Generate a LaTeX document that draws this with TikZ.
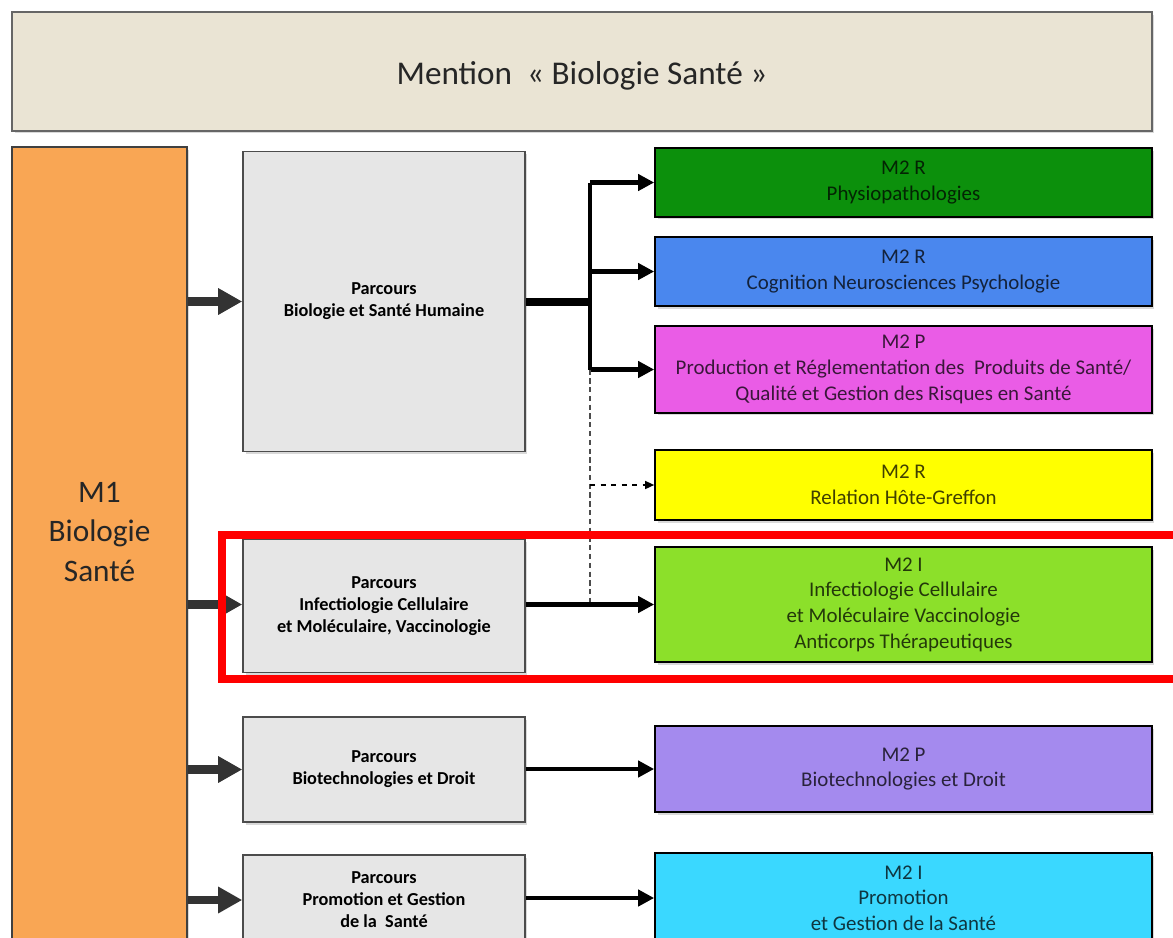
\documentclass[tikz,border=0pt]{standalone}
\usepackage{fontspec}
\setmainfont{Carlito}
\usetikzlibrary{arrows.meta,shadows}
\definecolor{mentionbg}{HTML}{EAE4D4}
\definecolor{mone}{HTML}{F9A654}
\definecolor{parcoursbg}{HTML}{E6E6E6}
\definecolor{physio}{HTML}{0C900C}
\definecolor{cogni}{HTML}{4A87EE}
\definecolor{prod}{HTML}{EA5CE6}
\definecolor{greffe}{HTML}{FFFF00}
\definecolor{infect}{HTML}{8CE02A}
\definecolor{biotech}{HTML}{A48AEE}
\definecolor{promo}{HTML}{3AD8FF}
\begin{document}
\begin{tikzpicture}[x=0.02cm,y=-0.02cm,
    box/.style={inner sep=0pt, align=center,
      drop shadow={shadow xshift=0.05cm, shadow yshift=-0.05cm, opacity=0.3}},
    parcours/.style={box, draw=black!70, line width=0.9pt, fill=parcoursbg,
      minimum width=5.64cm, font=\bfseries\fontsize{10.4}{12.5}\selectfont},
    master/.style={box, draw=black, line width=1pt, fill=#1, text=#1!25!black,
      minimum width=9.94cm, font=\fontsize{11.9}{14.6}\selectfont},
    bigarrow/.style={draw=black!80, line width=5pt, -{Triangle[length=0.48cm,width=0.5cm]}},
    linkarrow/.style={line width=2.8pt, -{Triangle[length=0.32cm,width=0.32cm]}},
    optarrow/.style={line width=0.8pt, dashed, -{Triangle[length=0.18cm,width=0.16cm]}},
  ]
  \useasboundingbox (0,0) rectangle (1173,937);
  \clip (0,0) rectangle (1173,937);

  \node[box, draw=black!60, line width=1pt, fill=mentionbg, minimum width=22.8cm,
    minimum height=2.38cm] (mention) at (582,71.5) {};
  \node[text=black!85, font=\fontsize{18.9}{22}\selectfont] (mentiontxt) at (582,76)
    {Mention~~« Biologie Santé »};

  \node[box, draw=black!75, line width=1pt, fill=mone, minimum width=3.5cm,
    minimum height=16.26cm] (m1) at (99.5,553.5) {};
  \node[align=center, text=black!85, font=\fontsize{17.8}{22.4}\selectfont] (m1txt)
    at (99.5,532) {M1\\Biologie\\Santé};

  \node[parcours, minimum height=6cm] (g1) at (384,301.5) {Parcours\\Biologie et Santé Humaine};
  \node[parcours, minimum height=2.66cm] (g2) at (384,606)
    {Parcours\\Infectiologie Cellulaire\\et Moléculaire, Vaccinologie};
  \node[parcours, minimum height=2.1cm] (g3) at (384,769.5) {Parcours\\Biotechnologies et Droit};
  \node[parcours, minimum height=1.8cm] (g4) at (384,900)
    {Parcours\\Promotion et Gestion\\de la~ Santé};

  \node[master=physio, minimum height=1.38cm] (c1) at (903.5,182.5) {M2 R\\Physiopathologies};
  \node[master=cogni, minimum height=1.38cm] (c2) at (903.5,271.5)
    {M2 R\\Cognition Neurosciences Psychologie};
  \node[master=prod, minimum height=1.74cm] (c3) at (903.5,369.5)
    {M2 P\\Production et Réglementation des~ Produits de Santé/\\Qualité et Gestion des Risques en Santé};
  \node[master=greffe, minimum height=1.4cm] (c4) at (903.5,485) {M2 R\\Relation Hôte-Greffon};
  \node[master=infect, minimum height=2.3cm] (c5) at (903.5,604.5)
    {M2 I\\Infectiologie Cellulaire\\et Moléculaire Vaccinologie\\Anticorps Thérapeutiques};
  \node[master=biotech, minimum height=1.72cm] (c6) at (903.5,769) {M2 P\\Biotechnologies et Droit};
  \node[master=promo, minimum height=1.8cm] (c7) at (903.5,898)
    {M2 I\\Promotion\\et Gestion de la Santé};

  \coordinate (split) at (590,302);

  \begin{scope}
    \draw[bigarrow] (m1.east |- g1) -- (g1);
    \draw[bigarrow] (m1.east |- c5) -- (g2.west |- c5);
    \draw[bigarrow] (m1.east |- g3) -- (g3);
    \draw[bigarrow] (m1.east |- g4) -- (g4);
    \draw[line width=4pt] (g1.east |- split) -- (split);
    \draw[line width=2.8pt] (split |- c1) -- (split |- c3);
    \draw[linkarrow] (split |- c1) -- (c1);
    \draw[linkarrow] (split |- c2) -- (c2);
    \draw[linkarrow] (split |- c3) -- (c3);
    \draw[black!70, line width=0.7pt, densely dashed] (split |- c3) -- (split |- c5);
    \draw[optarrow] (split |- c4) -- (c4);
    \draw[linkarrow] (g2.east |- c5) -- (c5);
    \draw[linkarrow] (g3.east |- c6) -- (c6);
    \draw[linkarrow] (g4.east |- c7) -- (c7);
  \end{scope}

  \node[draw=red, line width=0.16cm, minimum width=19.26cm, minimum height=2.88cm]
    (focus) at (703.5,607) {};
\end{tikzpicture}
\end{document}
